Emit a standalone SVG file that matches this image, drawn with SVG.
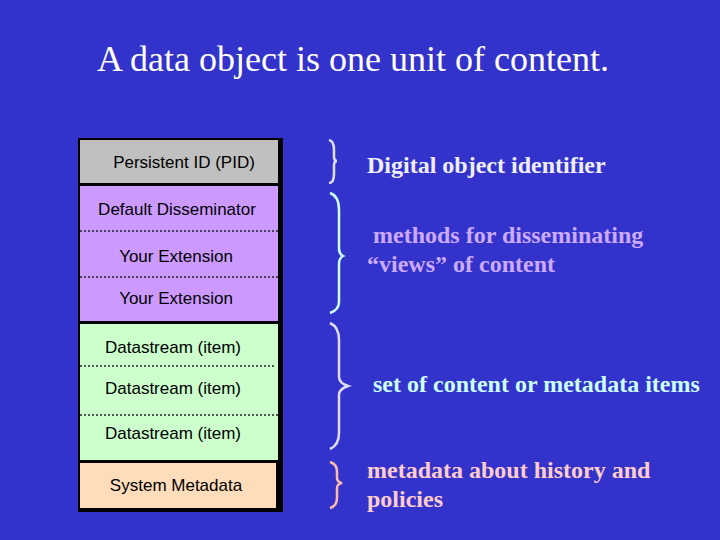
<svg xmlns="http://www.w3.org/2000/svg" width="720" height="540" viewBox="0 0 720 540">
<style>
.b{font-family:"Liberation Sans",Arial,sans-serif;font-size:17px;fill:#000;text-anchor:middle}
.r{font-family:"Liberation Serif","Times New Roman",serif;font-size:24px;font-weight:bold}
.d{stroke:#222;stroke-width:1.5;stroke-dasharray:2 2}
.br{fill:none;stroke-width:2.5}
</style>
<rect width="720" height="540" fill="#3333CC"/>
<text x="353" y="71" font-family="Liberation Serif,'Times New Roman',serif" font-size="36" fill="#fff" text-anchor="middle">A data object is one unit of content.</text>
<rect x="78" y="138" width="205" height="374" fill="#000"/>
<g id="pid"><rect x="80" y="140" width="198" height="43" fill="#C0C0C0"/><text class="b" x="184" y="168">Persistent ID (PID)</text></g>
<g id="diss"><rect x="80" y="186" width="198" height="135" fill="#CC99FF"/>
<line class="d" x1="80" y1="231" x2="278" y2="231"/><line class="d" x1="80" y1="277" x2="278" y2="277"/>
<text class="b" x="177" y="215">Default Disseminator</text><text class="b" x="176" y="262">Your Extension</text><text class="b" x="176" y="304">Your Extension</text></g>
<g id="ds"><rect x="80" y="324" width="198" height="136" fill="#CCFFCC"/>
<line class="d" x1="80" y1="366" x2="276" y2="366"/><line class="d" x1="80" y1="415" x2="278" y2="415"/>
<text class="b" x="173" y="353">Datastream (item)</text><text class="b" x="173" y="394">Datastream (item)</text><text class="b" x="173" y="439">Datastream (item)</text></g>
<g id="sys"><rect x="80" y="463" width="196" height="45" fill="#FFDDBB"/><text class="b" x="176" y="491">System Metadata</text></g>
<g id="connectors">
<path class="br" stroke="#DDDDFF" d="M329,140 Q334,141 334,150 L334,157 Q334,161 337,161 Q334,161 334,165 L334,174 Q334,183 329,183"/>
<path class="br" stroke="#CCFFFF" d="M330,193 Q339,196 339,210 L339,248 Q339,254 343,256 Q339,258 339,264 L339,302 Q339,310 330,313"/>
<path class="br" stroke="#DDDDFF" d="M330,323 Q339,327 339,340 L339,377 Q339,383 348,386 Q339,389 339,395 L339,433 Q339,445 330,449"/>
<path class="br" stroke="#FFBBAA" d="M330,462 Q337,464 337,472 L337,478 Q337,482 342,483 Q337,484 337,488 L337,498 Q337,506 330,508"/>
</g>
<text class="r" x="367" y="173" fill="#EEEEFF">Digital object identifier</text>
<text class="r" x="373" y="243" fill="#CCAAFF">methods for disseminating</text>
<text class="r" x="367" y="272" fill="#CCAAFF">“views” of content</text>
<text class="r" x="373" y="392" fill="#CCFFFF">set of content or metadata items</text>
<text class="r" x="367" y="478" fill="#FFCCCC">metadata about history and</text>
<text class="r" x="367" y="507" fill="#FFCCCC">policies</text>
</svg>
